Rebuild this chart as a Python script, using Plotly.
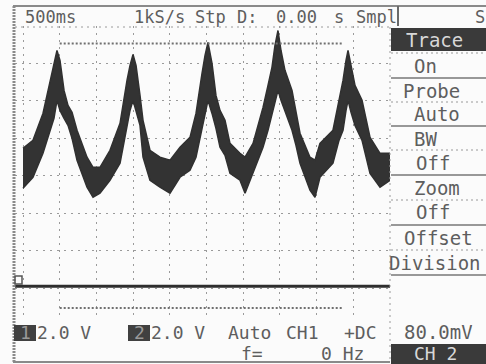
import plotly.graph_objects as go

# ---------------- data ----------------
# CH1 noisy trace: time (s) and envelope of the band (V)
t_ch1 = [0.000, 0.136, 0.272, 0.368, 0.422, 0.463, 0.504, 0.559, 0.613, 0.668,
         0.736, 0.872, 0.954, 1.049, 1.185, 1.322, 1.417, 1.458, 1.499, 1.540,
         1.594, 1.635, 1.730, 1.866, 2.003, 2.139, 2.275, 2.357, 2.439, 2.480,
         2.520, 2.575, 2.629, 2.684, 2.752, 2.820, 2.956, 3.025, 3.134, 3.270,
         3.338, 3.392, 3.433, 3.474, 3.515, 3.569, 3.665, 3.719, 3.774, 3.910,
         3.978, 4.046, 4.223, 4.305, 4.360, 4.401, 4.428, 4.469, 4.523, 4.619,
         4.728, 4.864, 5.000]
ch1_upper = [7.47, 7.89, 9.33, 11.09, 12.05, 12.69, 12.16, 10.56, 9.76, 9.39,
             8.43, 6.99, 6.45, 6.45, 7.36, 8.80, 11.09, 11.89, 12.48, 11.89,
             10.29, 8.96, 7.36, 6.99, 6.83, 7.52, 8.05, 9.33, 11.47, 12.43,
             13.12, 12.00, 10.29, 9.49, 8.96, 7.73, 7.20, 6.99, 7.73, 9.65,
             10.83, 11.79, 12.96, 13.76, 12.69, 11.63, 10.56, 9.49, 8.27, 6.99,
             6.83, 7.73, 8.43, 10.03, 11.09, 12.16, 12.69, 11.89, 10.83, 10.03,
             8.05, 7.20, 7.20]
ch1_lower = [5.33, 5.92, 7.20, 8.43, 9.07, 10.03, 9.49, 9.07, 8.69, 8.00,
             6.83, 5.39, 4.85, 5.07, 5.76, 6.67, 8.80, 9.49, 10.03, 9.39,
             8.69, 6.99, 5.76, 5.39, 5.07, 5.92, 6.29, 6.99, 8.43, 9.23,
             10.03, 9.33, 8.53, 7.52, 7.09, 6.13, 5.76, 5.07, 6.13, 7.52,
             8.43, 9.33, 10.03, 10.56, 10.03, 9.49, 8.43, 7.63, 6.67, 5.23,
             4.85, 5.92, 6.67, 7.89, 8.43, 9.49, 10.03, 9.39, 8.69, 7.89,
             6.13, 5.39, 5.76]

# CH2 flat trace
t_ch2 = [-0.109, 5.0]
ch2_vals = [0.1, 0.1]

# cursor lines (V) and their time span (s)
cursor_levels = [13.07, -1.07]
cursor_span = [0.5, 4.36]

# axis settings
x_range = [-0.109, 5.0]
y_range = [-1.707, 14.0]
x_div = 0.5
y_div = 2.0

# texts
header_words = ["500ms", "1kS/s", "Stp", "D:", "0.00", "s", "Smpl", "S"]
menu_labels = ["Trace", "On", "Probe", "Auto", "BW", "Off", "Zoom", "Off",
               "Offset", "Division", "80.0mV", "CH 2"]
bottom_row1 = ["2.0 V", "2.0 V", "Auto", "CH1", "+DC"]
bottom_row2 = ["f=", "0 Hz"]
channel_icons = ["1", "2"]

# ---------------- layout helpers ----------------
W, H = 486, 364
FONT = "DejaVu Sans Mono"
TXT = "#5e5e5e"
DARK = "#3a3a3a"
LIGHT = "#d8d8d8"


def px(x):
    return x / W


def py(y):
    return 1 - y / H


fig = go.Figure()

# CH1 band
fig.add_trace(go.Scatter(x=t_ch1, y=ch1_lower, mode="lines",
                         line=dict(color="#303030", width=1.5), hoverinfo="skip"))
fig.add_trace(go.Scatter(x=t_ch1, y=ch1_upper, mode="lines", fill="tonexty",
                         fillcolor="#333333",
                         line=dict(color="#303030", width=1.5), hoverinfo="skip"))
# CH2
fig.add_trace(go.Scatter(x=t_ch2, y=ch2_vals, mode="lines",
                         line=dict(color="#2e2e2e", width=3), hoverinfo="skip"))
# cursors
for lvl in cursor_levels:
    fig.add_trace(go.Scatter(x=cursor_span, y=[lvl, lvl], mode="lines",
                             line=dict(color="#707070", width=2, dash="2px,2px"),
                             hoverinfo="skip"))

shapes = []
# frame lines
shapes.append(dict(type="line", xref="paper", yref="paper", x0=px(14), x1=px(14),
                   y0=py(6), y1=py(362), line=dict(color="#8a8a8a", width=3, dash="2px,1px")))
shapes.append(dict(type="line", xref="paper", yref="paper", x0=px(13), x1=px(486),
                   y0=py(6), y1=py(6), line=dict(color="#8a8a8a", width=2)))
shapes.append(dict(type="line", xref="paper", yref="paper", x0=px(13), x1=px(390),
                   y0=py(362), y1=py(362), line=dict(color="#8a8a8a", width=2)))
shapes.append(dict(type="line", xref="paper", yref="paper", x0=px(398), x1=px(398),
                   y0=py(6), y1=py(26), line=dict(color="#6a6a6a", width=2)))
# right edge of grid
shapes.append(dict(type="line", xref="paper", yref="paper", x0=px(390), x1=px(390),
                   y0=py(27), y1=py(362), line=dict(color="#9a9a9a", width=1, dash="2px,4px")))
# top edge of grid
shapes.append(dict(type="line", xref="paper", yref="paper", x0=px(15), x1=px(390),
                   y0=py(27), y1=py(27), line=dict(color="#9a9a9a", width=1, dash="2px,4px")))
# menu dark boxes
shapes.append(dict(type="rect", xref="paper", yref="paper", x0=px(391), x1=px(486),
                   y0=py(28), y1=py(51), fillcolor=DARK, line=dict(width=0)))
shapes.append(dict(type="rect", xref="paper", yref="paper", x0=px(391), x1=px(486),
                   y0=py(344), y1=py(364), fillcolor=DARK, line=dict(width=0)))
# menu separators
for yy in [78, 126, 175, 225, 275]:
    shapes.append(dict(type="line", xref="paper", yref="paper", x0=px(391), x1=px(486),
                       y0=py(yy), y1=py(yy), line=dict(color="#777777", width=1.5)))
for yy in [53, 102, 150, 200, 250]:
    shapes.append(dict(type="line", xref="paper", yref="paper", x0=px(391), x1=px(486),
                       y0=py(yy), y1=py(yy), line=dict(color="#999999", width=1, dash="2px,3px")))
# channel icons
for x0 in [14, 128]:
    shapes.append(dict(type="rect", xref="paper", yref="paper", x0=px(x0), x1=px(x0 + 22),
                       y0=py(325), y1=py(341), fillcolor="#404040", line=dict(width=0)))
# ground marker
shapes.append(dict(type="rect", xref="paper", yref="paper", x0=px(15), x1=px(22),
                   y0=py(276), y1=py(284), fillcolor="rgba(0,0,0,0)",
                   line=dict(color="#555555", width=1.5)))

ann = []


def add_text(txt, x, y, color=TXT, anchor="left", size=19, h=None):
    a = dict(text=txt, x=px(x), y=py(y), xref="paper", yref="paper",
             showarrow=False, xanchor=anchor, yanchor="middle",
             font=dict(family=FONT, size=size, color=color), borderpad=0)
    if h is not None:
        a["height"] = h
    ann.append(a)


header_x = [24, 133, 194, 236, 275, 333, 355, 474]
for w, x in zip(header_words, header_x):
    add_text(w, x, 17, size=17)

menu_x = [405, 413, 402, 413, 413, 415, 413, 415, 403, 388, 403, 413]
menu_y = [40, 66, 91, 114, 139, 163, 188, 212, 238, 263, 332, 353]
menu_size = [19] * 11 + [18]
for i, (w, x, y) in enumerate(zip(menu_labels, menu_x, menu_y)):
    add_text(w, x, y, color=LIGHT if i in (0, 11) else TXT, size=menu_size[i],
             h=20 if i < 11 else 18)

b1_x = [36, 150, 227, 285, 343]
for w, x in zip(bottom_row1, b1_x):
    add_text(w, x, 332, size=18, h=19)
b2_x = [240, 320]
for w, x in zip(bottom_row2, b2_x):
    add_text(w, x, 353, size=18, h=18)
for w, x in zip(channel_icons, [19, 133]):
    add_text(w, x, 332, color="#9a9a9a", size=18, h=19)

fig.update_layout(
    width=W, height=H,
    margin=dict(l=0, r=0, t=0, b=0),
    paper_bgcolor="#fbfbfb", plot_bgcolor="#fbfbfb",
    showlegend=False,
    shapes=shapes, annotations=ann,
    xaxis=dict(domain=[15 / W, 390 / W], range=x_range, tick0=0, dtick=x_div,
               showgrid=True, gridcolor="#9a9a9a", gridwidth=1, griddash="2px,5px",
               zeroline=False, showticklabels=False, ticks="", showline=False,
               fixedrange=True),
    yaxis=dict(domain=[1 - 320 / H, 1 - 26 / H], range=y_range, tick0=0, dtick=y_div,
               showgrid=True, gridcolor="#9a9a9a", gridwidth=1, griddash="2px,5px",
               zeroline=False, showticklabels=False, ticks="", showline=False,
               fixedrange=True),
)

fig.write_html("out.html")
